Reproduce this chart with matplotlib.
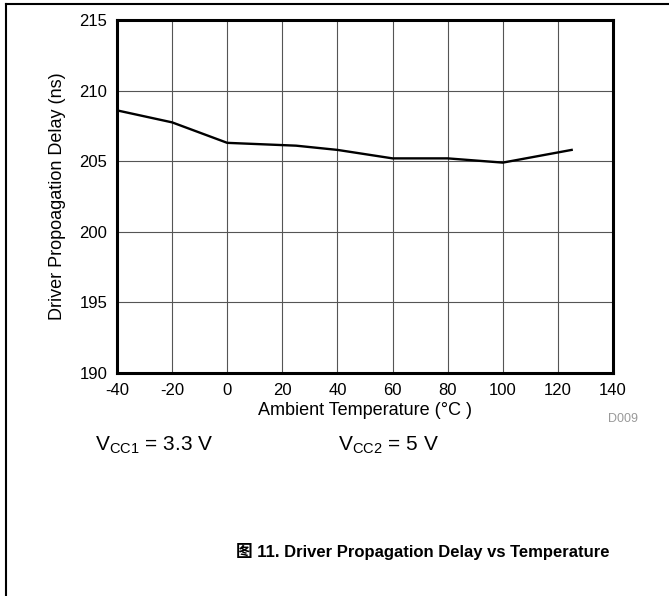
import matplotlib
matplotlib.use("Agg")
import matplotlib.pyplot as plt

# temperature (C) and driver propagation delay (ns)
temp = [-40, -20, 0, 25, 40, 60, 80, 100, 125]
delay = [208.6, 207.75, 206.3, 206.1, 205.8, 205.2, 205.2, 204.9, 205.8]

x_ticks = [-40, -20, 0, 20, 40, 60, 80, 100, 120, 140]
y_ticks = [190, 195, 200, 205, 210, 215]

fam = ['Liberation Sans', 'Noto Sans CJK SC', 'DejaVu Sans']
plt.rcParams['font.family'] = fam
plt.rcParams['axes.unicode_minus'] = False

fig = plt.figure(figsize=(6.69, 5.96), dpi=100)
ax = fig.add_axes([117 / 669, 1 - 373 / 596, 496 / 669, 353 / 596])

ax.plot(temp, delay, color='black', linewidth=1.7)
ax.set_xlim(-40, 140)
ax.set_ylim(190, 215)
ax.set_xticks(x_ticks)
ax.set_yticks(y_ticks)
ax.set_xticklabels([str(t) for t in x_ticks])
ax.tick_params(length=0, labelsize=12, pad=7)
ax.grid(True, color='#555555', linewidth=0.8)
for s in ax.spines.values():
    s.set_linewidth(2.2)

ax.set_xlabel('Ambient Temperature (°C )', fontsize=13, labelpad=3)
ax.set_ylabel('Driver Propoagation Delay (ns)', fontsize=13, labelpad=10)

# page frame (top and left edges)
fig.add_artist(plt.Line2D([6 / 669, 6 / 669], [0, 1 - 4 / 596], color='black', linewidth=1.5))
fig.add_artist(plt.Line2D([6 / 669, 1], [1 - 4 / 596, 1 - 4 / 596], color='black', linewidth=1.5))

fig.text(623 / 669, 1 - 419 / 596, 'D009', color='#999999', fontsize=9, ha='center', va='center')
fig.text(95 / 669, 1 - 445 / 596, r'V$_{\mathregular{CC1}}$ = 3.3 V', fontsize=15, ha='left', va='center')
fig.text(338 / 669, 1 - 445 / 596, r'V$_{\mathregular{CC2}}$ = 5 V', fontsize=15, ha='left', va='center')
fig.text(610 / 669, 1 - 552 / 596, '图 11. Driver Propagation Delay vs Temperature',
         fontsize=12, fontweight='bold', ha='right', va='center')

fig.savefig('out.png', dpi=100)
